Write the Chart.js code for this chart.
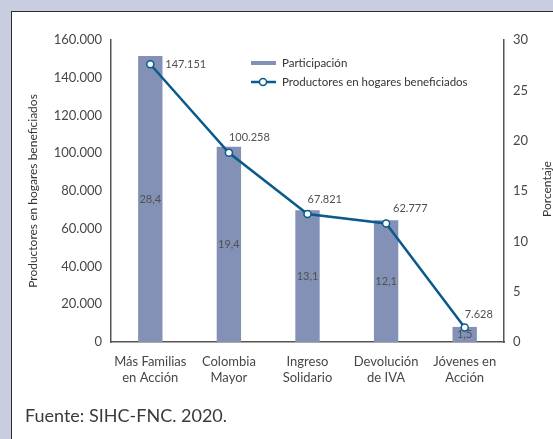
<!DOCTYPE html>
<html>
<head>
<meta charset="utf-8">
<script src="https://cdn.jsdelivr.net/npm/chart.js@4.4.1/dist/chart.umd.min.js"></script>
<style>
html,body{margin:0;padding:0;}
body{width:553px;height:439px;background:#c8cde0;position:relative;overflow:hidden;font-family:Lato,sans-serif;}
#panel{position:absolute;left:11px;top:11px;width:600px;height:500px;background:#fff;border:1.5px solid #2b2b36;box-sizing:border-box;}
#chart{position:absolute;left:0;top:0;}
#fuente{position:absolute;left:25px;top:404px;font-size:18px;color:#3a3a3a;white-space:nowrap;}
</style>
</head>
<body>
<div id="panel"></div>
<canvas id="chart" width="553" height="439"></canvas>
<div id="fuente">Fuente: SIHC-FNC. 2020.</div>
<script>
// categories
const programas=[
["Más Familias","en Acción"],
["Colombia","Mayor"],
["Ingreso","Solidario"],
["Devolución","de IVA"],
["Jóvenes en","Acción"]
]

// % participation (right axis)
const participacion=[28.4,19.4,13.1,12.1,1.5]

// producers in benefited households (left axis)
const productores=[147151,100258,67821,62777,7628]

const leftTicksMax=160000
const leftStep=20000
const rightTicksMax=30
const rightStep=5

const lineColor="#0b5a8c"
const barColor="#8391b6"
const textColor="#474747"

function miles(v){
return String(v).replace(/\B(?=(\d{3})+(?!\d))/g,".")
}
function decimal(v){
return v.toFixed(1).replace(".",",")
}

// label offsets for the line values (x,y from point)
const lineLabelOffsets=[[15,0],[0,-15],[0,-15],[7,-15],[0,-13]]

const labelsPlugin={
id:"labels",
afterDatasetsDraw(chart){
const ctx=chart.ctx
ctx.save()
ctx.fillStyle="#505050"
ctx.font="11px Lato"
ctx.textBaseline="middle"

// bar values, centered in bar
const barMeta=chart.getDatasetMeta(1)
ctx.textAlign="center"
barMeta.data.forEach((bar,i)=>{
ctx.fillText(decimal(participacion[i]),bar.x,(bar.y+bar.base)/2)
})

// line values
const lineMeta=chart.getDatasetMeta(0)
ctx.textAlign="left"
lineMeta.data.forEach((pt,i)=>{
const o=lineLabelOffsets[i]
ctx.fillText(miles(productores[i]),pt.x+o[0],pt.y+o[1])
})
ctx.restore()
}
}

const extrasPlugin={
id:"extras",
afterDraw(chart){
const ctx=chart.ctx
ctx.save()

// legend
ctx.fillStyle=barColor
ctx.fillRect(251,61,25,4)
ctx.strokeStyle=lineColor
ctx.lineWidth=2.5
ctx.beginPath()
ctx.moveTo(251,82)
ctx.lineTo(276,82)
ctx.stroke()
ctx.beginPath()
ctx.arc(263,82,3.5,0,Math.PI*2)
ctx.fillStyle="#fff"
ctx.fill()
ctx.lineWidth=1.5
ctx.stroke()

ctx.fillStyle="#333"
ctx.font="11.5px Lato"
ctx.textAlign="left"
ctx.textBaseline="middle"
ctx.fillText("Participación",282,63)
ctx.fillText("Productores en hogares beneficiados",282,82)

// axis titles
ctx.font="12px Lato"
ctx.textAlign="center"
ctx.translate(33,191)
ctx.rotate(-Math.PI/2)
ctx.fillText("Productores en hogares beneficiados",0,0)
ctx.restore()

ctx.save()
ctx.fillStyle="#333"
ctx.font="12px Lato"
ctx.textAlign="center"
ctx.textBaseline="middle"
ctx.translate(547,189)
ctx.rotate(-Math.PI/2)
ctx.fillText("Porcentaje",0,0)
ctx.restore()
}
}

const ctx=document.getElementById("chart").getContext("2d")

const chart=new Chart(ctx,{
data:{
labels:programas,
datasets:[
{
type:"line",
label:"Productores en hogares beneficiados",
data:productores,
yAxisID:"y",
borderColor:lineColor,
borderWidth:2.5,
pointRadius:3.5,
pointBorderWidth:1.5,
pointBackgroundColor:"#fff",
pointBorderColor:lineColor,
tension:0,
order:0
},
{
type:"bar",
label:"Participación",
data:participacion,
yAxisID:"y1",
backgroundColor:barColor,
categoryPercentage:1,
barPercentage:0.31,
order:1
}
]
},
options:{
responsive:false,
animation:false,
devicePixelRatio:1,
layout:{padding:{top:40,left:0,right:0,bottom:0}},
plugins:{
legend:{display:false},
tooltip:{enabled:false}
},
scales:{
x:{
offset:true,
grid:{display:false,drawTicks:false},
border:{display:true,color:"#555",width:1.5},
ticks:{color:textColor,font:{family:"Lato",size:13},padding:12,maxRotation:0},
afterFit(scale){scale.height=97}
},
y:{
position:"left",
min:0,
max:leftTicksMax,
grid:{display:false,drawTicks:false},
border:{display:true,color:"#555",width:1.5},
ticks:{stepSize:leftStep,color:textColor,font:{family:"Lato",size:13},padding:9,
callback:v=>miles(v)},
afterFit(scale){scale.width=111}
},
y1:{
position:"right",
min:0,
max:rightTicksMax,
grid:{display:false,drawTicks:false},
border:{display:true,color:"#555",width:1.5},
ticks:{stepSize:rightStep,color:textColor,font:{family:"Lato",size:13},padding:9},
afterFit(scale){scale.width=49}
}
}
},
plugins:[labelsPlugin,extrasPlugin]
})
</script>
</body>
</html>
